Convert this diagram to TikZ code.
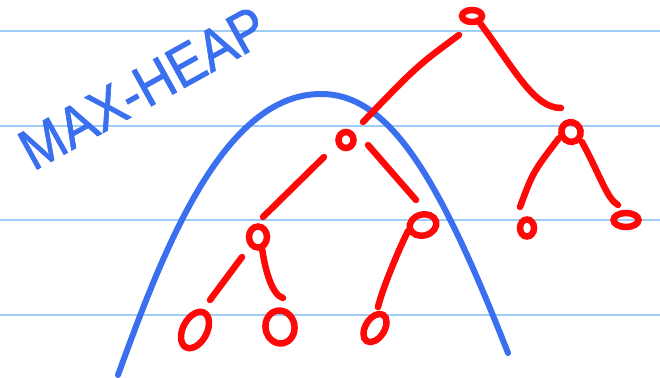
\documentclass[tikz,border=0pt]{standalone}
\usepackage{fontspec}
\usepackage{graphicx}
\setmainfont{Liberation Sans}
\newfontfamily\heaptitlefont[FakeBold=1.3]{Liberation Sans}
\usetikzlibrary{shapes.geometric,calc}
\definecolor{heapred}{RGB}{255,8,8}
\definecolor{heapblue}{RGB}{58,112,240}
\definecolor{ruleblue}{RGB}{160,205,245}
\tikzset{
  ruled/.style={draw=ruleblue, line width=2pt},
  bluestroke/.style={draw=heapblue, line width=6pt, line cap=round, line join=round},
  loopnode/.style={ellipse, draw=heapred, line width=6.5pt, inner sep=0pt, outer sep=0pt},
  edge/.style={draw=heapred, line width=6.5pt, line cap=round, line join=round},
}
\begin{document}
\begin{tikzpicture}[x=1pt, y=-1pt]
\useasboundingbox (0,0) rectangle (660,377);
\fill[white] (0,0) rectangle (660,377);
% ruled lines
\foreach \yy in {31,126,220,315} {\draw[ruled] (0,\yy) -- (660,\yy);}
% blue arch
\draw[bluestroke] (118,375) .. controls (160,260) and (220,95) .. (320,94)
                  .. controls (390,93) and (440,180) .. (508,353);
% title
\node[text=heapblue, font=\heaptitlefont\fontsize{58}{58}\selectfont, rotate=29] (title) at (143,88) {\scalebox{0.9}[1]{MAX-HEAP}};
% tree nodes
\node[loopnode, minimum width=20pt, minimum height=12pt] (root) at (472,16) {};
\node[loopnode, minimum width=15pt, minimum height=16pt] (L) at (346,140) {};
\node[loopnode, minimum width=19pt, minimum height=20pt, rotate=30] (R) at (571,132) {};
\node[loopnode, minimum width=18pt, minimum height=21pt] (LL) at (258,237) {};
\node[loopnode, minimum width=27pt, minimum height=21pt, rotate=15] (LR) at (423,225) {};
\node[loopnode, minimum width=14pt, minimum height=17pt] (RL) at (527,228) {};
\node[loopnode, minimum width=25pt, minimum height=14pt] (RR) at (626,220) {};
\node[loopnode, minimum width=39pt, minimum height=24pt, rotate=62] (LLL) at (195,330) {};
\node[loopnode, minimum width=29pt, minimum height=33pt, rotate=10] (LLR) at (280,327) {};
\node[loopnode, minimum width=31pt, minimum height=19pt, rotate=58] (LRL) at (375,328) {};
% edges
\draw[edge] ($(root)+(-13,19)$) .. controls ($(root)+(-55,50)$) .. ($(L)+(17,-18)$);
\draw[edge] ($(root)+(8,7)$) .. controls ($(root)+(43,54)$) and ($(R)+(-37,-24)$) .. ($(R)+(-10,-24)$);
\draw[edge] ($(L)+(-22,17)$) -- ($(LL)+(5,-20)$);
\draw[edge] ($(L)+(22,5)$) -- ($(LR)+(-7,-25)$);
\draw[edge] ($(R)+(-12,6)$) .. controls ($(R)+(-38,40)$) .. ($(RL)+(-7,-21)$);
\draw[edge] ($(R)+(11,10)$) .. controls ($(R)+(29,43)$) and ($(RR)+(-19,-21)$) .. ($(RR)+(-8,-15)$);
\draw[edge] ($(LL)+(-16,20)$) -- ($(LLL)+(15,-30)$);
\draw[edge] ($(LL)+(4,11)$) .. controls ($(LL)+(7,33)$) and ($(LLR)+(-8,-32)$) .. ($(LLR)+(3,-29)$);
\draw[edge] ($(LR)+(-15,6)$) .. controls ($(LR)+(-25,26)$) and ($(LRL)+(7,-38)$) .. ($(LRL)+(3,-21)$);
\end{tikzpicture}
\end{document}
